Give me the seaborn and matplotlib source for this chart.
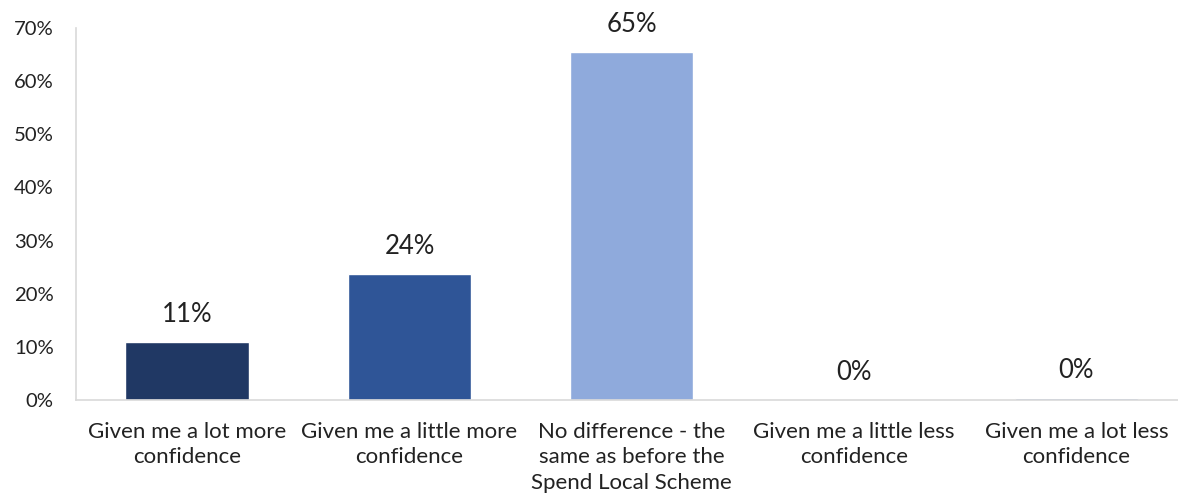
import matplotlib
matplotlib.use("Agg")
import matplotlib.pyplot as plt
import seaborn as sns
import pandas as pd
import numpy as np

categories = [
    "Given me a lot more\nconfidence",
    "Given me a little more\nconfidence",
    "No difference - the\nsame as before the\nSpend Local Scheme",
    "Given me a little less\nconfidence",
    "Given me a lot less\nconfidence",
]
values = [10.9, 23.7, 65.4, 0.0, 0.3]
colors = ["#203864", "#2F5597", "#8FAADC", "#4472C4", "#8FAADC"]
y_ticks = [0, 10, 20, 30, 40, 50, 60, 70]

sns.set_theme(style="white")
plt.rcParams["font.family"] = ["Lato", "DejaVu Sans"]

df = pd.DataFrame({"category": categories, "value": values})

fig = plt.figure(figsize=(11.78, 5.0), dpi=100)
# the last category runs slightly past the right edge of the canvas
ax = fig.add_axes([76 / 1178, 0.2, 1111.5 / 1178, 0.744])

sns.barplot(data=df, x="category", y="value", hue="category",
            palette=colors, width=0.555, legend=False, ax=ax, saturation=1)

ax.set_ylim(0, 70)
ax.set_xlim(-0.5, len(categories) - 0.5)
ax.set_yticks(y_ticks)
ax.set_yticklabels([f"{t}%" for t in y_ticks], fontsize=14.6, color="#222222")
ax.set_xlabel("")
ax.set_ylabel("")
ax.tick_params(axis="x", which="major", length=0, labelsize=16, labelcolor="#222222", pad=15.5)
for lbl in ax.get_xticklabels():
    lbl.set_linespacing(1.36)
ax.set_xticks(np.arange(-0.5, len(categories)), minor=True)
ax.tick_params(axis="x", which="minor", length=8, color="#D9D9D9", width=1.2)
ax.tick_params(axis="y", length=6, color="#D9D9D9", width=1.2, labelcolor="#222222", pad=10)

for side in ["top", "right"]:
    ax.spines[side].set_visible(False)
for side in ["left", "bottom"]:
    ax.spines[side].set_color("#D9D9D9")
    ax.spines[side].set_linewidth(1.2)

for i, v in enumerate(values):
    ax.text(i, v + 2.9, f"{v:.0f}%", ha="center", va="bottom", fontsize=18.5, color="#222222")

fig.savefig("out.png", dpi=100)
